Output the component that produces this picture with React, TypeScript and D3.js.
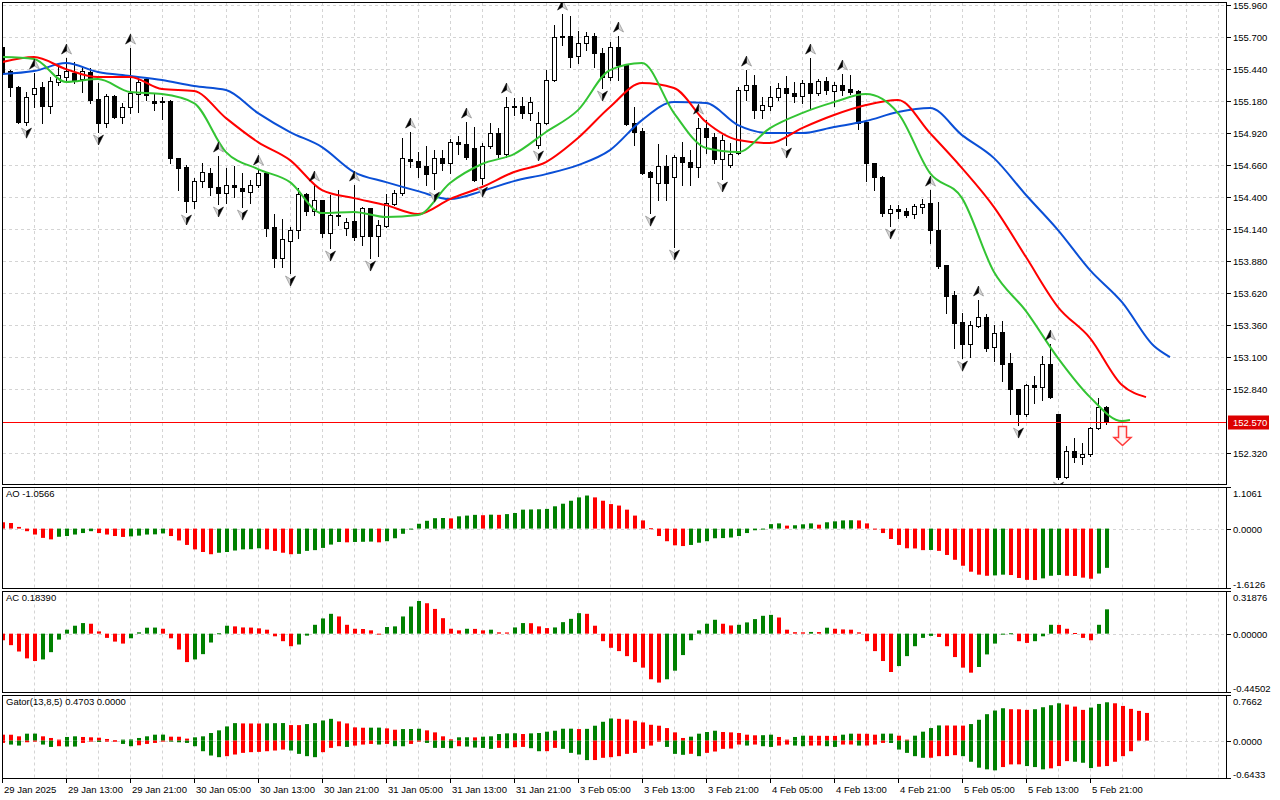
import React from "react";
import * as d3 from "d3";

// ---------- DATA (USDJPY-like H1) ----------
const timeLabels = [
  "29 Jan 2025", "29 Jan 13:00", "29 Jan 21:00", "30 Jan 05:00", "30 Jan 13:00", "30 Jan 21:00",
  "31 Jan 05:00", "31 Jan 13:00", "31 Jan 21:00", "3 Feb 05:00", "3 Feb 13:00", "3 Feb 21:00",
  "4 Feb 05:00", "4 Feb 13:00", "4 Feb 21:00", "5 Feb 05:00", "5 Feb 13:00", "5 Feb 21:00",
];
const timeLabelBars = [0, 8, 16, 24, 32, 40, 48, 56, 64, 72, 80, 88, 96, 104, 112, 120, 128, 136];

const priceTicks = [155.96, 155.7, 155.44, 155.18, 154.92, 154.66, 154.4, 154.14, 153.88, 153.62, 153.36, 153.1, 152.84, 152.32];
const aoTicks = [1.1061, 0, -1.6126];
const acTicks = [0.31876, 0, -0.44502];
const gatorTicks = [0.7662, 0, -0.6433];

const open = [
  155.618, 155.423, 155.293, 155.009, 155.236, 155.293, 155.139, 155.334, 155.374, 155.407,
  155.358, 155.415, 155.196, 155.001, 155.220, 155.049, 155.131, 155.236, 155.358, 155.179,
  155.179, 155.179, 154.716, 154.643, 154.367, 154.529, 154.594, 154.481, 154.432, 154.497,
  154.473, 154.440, 154.497, 154.594, 154.156, 153.904, 154.042, 154.131, 154.424, 154.286,
  154.375, 154.107, 154.245, 154.148, 154.204, 154.083, 154.310, 154.083, 154.164, 154.343,
  154.432, 154.708, 154.692, 154.651, 154.594, 154.716, 154.676, 154.846, 154.830, 154.798,
  154.554, 154.814, 154.919, 154.749, 155.139, 155.139, 155.082, 154.822, 155.001, 155.350,
  155.708, 155.708, 155.545, 155.651, 155.708, 155.569, 155.374, 155.618, 155.472, 155.001,
  154.936, 154.603, 154.513, 154.651, 154.562, 154.724, 154.684, 154.643, 154.960, 154.887,
  154.708, 154.659, 154.757, 155.269, 155.309, 155.106, 155.139, 155.212, 155.285, 155.244,
  155.220, 155.326, 155.244, 155.342, 155.261, 155.309, 155.277, 155.261, 155.009, 154.676,
  154.562, 154.269, 154.302, 154.286, 154.261, 154.318, 154.351, 154.131, 153.847, 153.603,
  153.384, 153.205, 153.351, 153.424, 153.181, 153.303, 153.051, 152.839, 152.636, 152.872,
  152.856, 153.043, 152.636, 152.124, 152.336, 152.287, 152.311, 152.523, 152.693,
];
const high = [
  155.643, 155.431, 155.301, 155.253, 155.407, 155.334, 155.374, 155.464, 155.529, 155.496,
  155.448, 155.448, 155.326, 155.236, 155.228, 155.163, 155.610, 155.374, 155.374, 155.244,
  155.212, 155.188, 154.716, 154.659, 154.554, 154.676, 154.635, 154.733, 154.635, 154.651,
  154.594, 154.538, 154.627, 154.603, 154.261, 154.221, 154.156, 154.473, 154.432, 154.497,
  154.375, 154.416, 154.456, 154.229, 154.497, 154.318, 154.310, 154.213, 154.424, 154.456,
  154.879, 154.928, 154.765, 154.814, 154.781, 154.781, 154.871, 154.895, 155.009, 154.968,
  154.838, 155.001, 154.960, 155.212, 155.204, 155.212, 155.212, 155.090, 155.431, 155.797,
  155.886, 155.870, 155.748, 155.740, 155.732, 155.610, 155.659, 155.708, 155.472, 155.131,
  154.960, 154.611, 154.830, 154.741, 154.741, 154.846, 154.781, 155.041, 155.025, 154.919,
  154.903, 154.838, 155.293, 155.431, 155.391, 155.212, 155.301, 155.326, 155.383, 155.334,
  155.350, 155.529, 155.358, 155.374, 155.334, 155.399, 155.391, 155.269, 155.009, 154.676,
  154.570, 154.334, 154.334, 154.310, 154.343, 154.383, 154.456, 154.359, 153.847, 153.636,
  153.457, 153.392, 153.563, 153.449, 153.359, 153.392, 153.132, 152.839, 152.880, 152.945,
  153.108, 153.205, 152.636, 152.376, 152.441, 152.401, 152.531, 152.766, 152.701,
];
const low = [
  155.391, 155.220, 155.001, 154.984, 155.131, 155.001, 155.082, 155.309, 155.350, 155.326,
  155.253, 155.163, 154.928, 154.968, 155.041, 155.001, 155.082, 155.090, 155.188, 155.106,
  155.033, 154.676, 154.456, 154.278, 154.310, 154.481, 154.416, 154.343, 154.351, 154.399,
  154.318, 154.351, 154.481, 154.083, 153.831, 153.831, 153.782, 154.066, 154.253, 154.253,
  154.074, 153.985, 154.172, 154.091, 154.050, 154.009, 153.904, 153.920, 154.156, 154.334,
  154.416, 154.643, 154.562, 154.497, 154.464, 154.619, 154.594, 154.749, 154.708, 154.529,
  154.505, 154.798, 154.724, 154.724, 155.066, 155.041, 155.025, 154.798, 154.993, 155.342,
  155.634, 155.456, 155.488, 155.594, 155.456, 155.285, 155.350, 155.350, 154.984, 154.822,
  154.586, 154.269, 154.375, 154.375, 153.993, 154.497, 154.497, 154.562, 154.757, 154.676,
  154.546, 154.643, 154.749, 155.188, 155.041, 155.041, 155.106, 155.188, 154.822, 155.171,
  155.163, 155.123, 155.228, 155.236, 155.139, 155.228, 155.236, 154.952, 154.529, 154.456,
  154.245, 154.164, 154.229, 154.237, 154.229, 154.269, 154.026, 153.823, 153.457, 153.173,
  153.091, 153.099, 153.343, 153.148, 153.067, 152.904, 152.636, 152.547, 152.620, 152.726,
  152.750, 152.766, 152.108, 152.116, 152.246, 152.230, 152.295, 152.514, 152.555,
];
const close = [
  155.415, 155.293, 155.009, 155.212, 155.285, 155.139, 155.342, 155.391, 155.423, 155.350,
  155.423, 155.188, 155.001, 155.220, 155.049, 155.131, 155.244, 155.334, 155.228, 155.163,
  155.171, 154.716, 154.635, 154.367, 154.529, 154.603, 154.481, 154.432, 154.497, 154.481,
  154.448, 154.497, 154.594, 154.148, 153.904, 154.058, 154.131, 154.424, 154.286, 154.375,
  154.107, 154.253, 154.253, 154.196, 154.074, 154.310, 154.083, 154.172, 154.351, 154.432,
  154.716, 154.692, 154.643, 154.586, 154.716, 154.676, 154.846, 154.830, 154.724, 154.538,
  154.814, 154.919, 154.749, 155.131, 155.131, 155.082, 155.171, 155.001, 155.350, 155.699,
  155.699, 155.537, 155.651, 155.708, 155.569, 155.374, 155.618, 155.472, 154.993, 154.928,
  154.594, 154.562, 154.651, 154.513, 154.724, 154.684, 154.643, 154.960, 154.887, 154.708,
  154.863, 154.749, 155.269, 155.309, 155.106, 155.147, 155.212, 155.285, 155.244, 155.220,
  155.326, 155.244, 155.342, 155.269, 155.309, 155.269, 155.253, 155.001, 154.676, 154.562,
  154.269, 154.302, 154.286, 154.253, 154.326, 154.343, 154.131, 153.839, 153.595, 153.376,
  153.205, 153.359, 153.424, 153.173, 153.294, 153.043, 152.839, 152.636, 152.872, 152.856,
  153.043, 152.774, 152.124, 152.336, 152.287, 152.311, 152.523, 152.693, 152.570,
];

// Alligator lines, sampled every 4 bars (shifted positions), plus their last point
const lineStep = 4;
const jaw = [
  155.399, 155.423, 155.488, 155.415, 155.383, 155.350, 155.301, 155.269, 155.082, 154.928,
  154.806, 154.603, 154.521, 154.448, 154.383, 154.448, 154.529, 154.586, 154.659, 154.781,
  155.025, 155.171, 155.163, 154.984, 154.919, 154.919, 154.968, 155.017, 155.090, 155.123,
  154.903, 154.716, 154.416, 154.131, 153.806, 153.546, 153.189,
];
const jawLast = [146, 153.099];
const teeth = [
  155.496, 155.537, 155.439, 155.374, 155.374, 155.277, 155.261, 155.041, 154.846, 154.700,
  154.456, 154.391, 154.334, 154.261, 154.383, 154.481, 154.603, 154.684, 154.879, 155.131,
  155.326, 155.285, 155.009, 154.863, 154.838, 154.960, 155.066, 155.147, 155.188, 154.919,
  154.635, 154.318, 153.912, 153.506, 153.254, 152.872,
];
const teethLast = [143, 152.774];
const lips = [
  155.537, 155.521, 155.334, 155.358, 155.253, 155.236, 155.163, 154.765, 154.627, 154.521,
  154.269, 154.278, 154.237, 154.253, 154.513, 154.668, 154.749, 154.928, 155.106, 155.431,
  155.488, 155.082, 154.798, 154.765, 154.960, 155.082, 155.171, 155.236, 155.082, 154.594,
  154.391, 153.790, 153.473, 153.091, 152.774, 152.579,
];
const lipsLast = [141, 152.588];

const upFractals = [4, 8, 16, 27, 32, 39, 44, 51, 58, 63, 70, 77, 87, 93, 101, 105, 116, 122, 131];
const downFractals = [3, 12, 23, 27, 30, 36, 41, 46, 54, 60, 67, 75, 81, 84, 90, 98, 111, 120, 127, 132];

const sellSignal = { bar: 140, price: 152.535 };

const ao = [
  0.17, 0.15, 0.045, -0.07, -0.16, -0.25, -0.29, -0.22, -0.2, -0.16,
  -0.12, -0.07, -0.12, -0.16, -0.2, -0.225, -0.21, -0.19, -0.16, -0.155,
  -0.13, -0.2, -0.32, -0.44, -0.56, -0.63, -0.69, -0.65, -0.63, -0.59,
  -0.56, -0.555, -0.53, -0.56, -0.6, -0.65, -0.69, -0.68, -0.6, -0.58,
  -0.52, -0.43, -0.36, -0.37, -0.36, -0.355, -0.35, -0.37, -0.34, -0.26,
  -0.14, -0.01, 0.13, 0.21, 0.28, 0.285, 0.275, 0.33, 0.35, 0.37,
  0.36, 0.375, 0.37, 0.39, 0.42, 0.51, 0.515, 0.52, 0.53, 0.6,
  0.67, 0.75, 0.84, 0.89, 0.84, 0.75, 0.66, 0.62, 0.51, 0.35,
  0.22, 0.01, -0.2, -0.34, -0.45, -0.47, -0.44, -0.38, -0.34, -0.26,
  -0.255, -0.24, -0.2, -0.12, -0.045, -0.02, 0.12, 0.14, 0.08, 0.09,
  0.115, 0.14, 0.105, 0.17, 0.195, 0.22, 0.225, 0.22, 0.14, -0.01,
  -0.12, -0.28, -0.44, -0.53, -0.535, -0.58, -0.575, -0.6, -0.71, -0.84,
  -1.0, -1.16, -1.24, -1.27, -1.26, -1.24, -1.25, -1.33, -1.38, -1.385,
  -1.34, -1.27, -1.25, -1.27, -1.275, -1.32, -1.35, -1.21, -1.0566,
];
const ac = [
  -0.05, -0.087, -0.135, -0.187, -0.207, -0.195, -0.14, -0.045, 0.03, 0.06,
  0.08, 0.075, 0.017, -0.032, -0.06, -0.075, -0.035, 0.01, 0.045, 0.046,
  0.037, -0.035, -0.12, -0.215, -0.195, -0.155, -0.067, 0.003, 0.06, 0.055,
  0.047, 0.046, 0.04, 0.03, -0.02, -0.057, -0.095, -0.082, -0.015, 0.067,
  0.115, 0.15, 0.13, 0.067, 0.037, 0.035, 0.025, -0.003, 0.05, 0.055,
  0.13, 0.205, 0.247, 0.23, 0.187, 0.117, 0.037, 0.025, 0.037, 0.036,
  0.025, 0.03, 0.01, 0.009, 0.047, 0.08, 0.079, 0.055, 0.042, 0.047,
  0.087, 0.112, 0.155, 0.15, 0.06, -0.057, -0.107, -0.132, -0.17, -0.215,
  -0.257, -0.345, -0.37, -0.345, -0.28, -0.162, -0.05, 0.025, 0.075, 0.105,
  0.075, 0.062, 0.067, 0.085, 0.11, 0.135, 0.142, 0.122, 0.03, 0.011,
  0.01, 0.013, 0.012, 0.045, 0.037, 0.032, 0.03, 0.01, -0.057, -0.132,
  -0.207, -0.29, -0.245, -0.17, -0.095, -0.032, -0.017, -0.025, -0.095, -0.177,
  -0.257, -0.295, -0.252, -0.157, -0.075, -0.002, 0.003, -0.057, -0.07, -0.057,
  -0.02, 0.067, 0.066, 0.037, 0.005, -0.032, -0.05, 0.067, 0.1839,
];
const gatorUp = [
  0.101, 0.1, 0.073, 0.118, 0.119, 0.073, 0.045, 0.017, 0.062, 0.073,
  0.062, 0.056, 0.05, 0.028, 0.005, 0.017, 0.02, 0.045, 0.073, 0.101,
  0.102, 0.067, 0.066, 0.034, 0.056, 0.073, 0.129, 0.174, 0.241, 0.297,
  0.292, 0.291, 0.29, 0.293, 0.296, 0.298, 0.264, 0.263, 0.281, 0.297,
  0.342, 0.37, 0.326, 0.292, 0.225, 0.219, 0.22, 0.221, 0.208, 0.185,
  0.196, 0.197, 0.202, 0.174, 0.14, 0.073, 0.022, 0.056, 0.057, 0.055,
  0.067, 0.073, 0.112, 0.123, 0.125, 0.112, 0.123, 0.129, 0.152, 0.168,
  0.202, 0.203, 0.196, 0.2, 0.253, 0.32, 0.376, 0.37, 0.359, 0.337,
  0.309, 0.269, 0.253, 0.213, 0.14, 0.045, 0.067, 0.118, 0.146, 0.168,
  0.146, 0.14, 0.129, 0.101, 0.09, 0.092, 0.101, 0.062, 0.017, 0.062,
  0.084, 0.083, 0.082, 0.081, 0.08, 0.101, 0.118, 0.117, 0.116, 0.101,
  0.118, 0.119, 0.084, 0.017, 0.084, 0.152, 0.213, 0.258, 0.257, 0.256,
  0.255, 0.281, 0.354, 0.449, 0.511, 0.55, 0.533, 0.532, 0.522, 0.533,
  0.567, 0.601, 0.634, 0.612, 0.578, 0.522, 0.561, 0.623, 0.651, 0.634,
  0.589, 0.539, 0.505, 0.4703,
];
const gatorDown = [
  -0.039, -0.067, -0.084, -0.028, -0.011, -0.067, -0.107, -0.095, -0.1, -0.101,
  -0.039, -0.011, -0.022, -0.011, -0.006, -0.056, -0.095, -0.079, -0.056, -0.039,
  -0.011, -0.017, -0.028, -0.039, -0.095, -0.18, -0.253, -0.281, -0.264, -0.236,
  -0.208, -0.196, -0.191, -0.18, -0.168, -0.152, -0.168, -0.225, -0.264, -0.281,
  -0.196, -0.123, -0.095, -0.107, -0.084, -0.067, -0.056, -0.067, -0.056, -0.095,
  -0.096, -0.056, -0.003, -0.039, -0.123, -0.124, -0.129, -0.095, -0.101, -0.118,
  -0.124, -0.14, -0.123, -0.129, -0.112, -0.107, -0.129, -0.18, -0.179, -0.123,
  -0.14, -0.208, -0.236, -0.331, -0.33, -0.292, -0.281, -0.264, -0.225, -0.208,
  -0.14, -0.084, -0.011, -0.107, -0.225, -0.241, -0.224, -0.264, -0.208, -0.185,
  -0.14, -0.135, -0.067, -0.084, -0.067, -0.095, -0.107, -0.084, -0.067, -0.084,
  -0.095, -0.084, -0.083, -0.095, -0.107, -0.067, -0.066, -0.084, -0.083, -0.067,
  -0.039, -0.04, -0.152, -0.208, -0.264, -0.292, -0.291, -0.264, -0.263, -0.247,
  -0.264, -0.359, -0.46, -0.488, -0.505, -0.449, -0.404, -0.403, -0.432, -0.449,
  -0.488, -0.471, -0.432, -0.348, -0.359, -0.376, -0.466, -0.443, -0.432, -0.359,
  -0.264, -0.18,
];

// ---------- LAYOUT ----------
const FONT = "'Liberation Sans', Arial, sans-serif";
const FS = 9.5;
const L = 2, R = 1227;
const MAIN = { top: 2, bottom: 485 };
const AOP = { top: 487.5, bottom: 588.5 };
const ACP = { top: 591.5, bottom: 692.5 };
const GP = { top: 695.5, bottom: 778.5 };
const GREEN = "#008000";
const RED = "#ff0000";
const GRID = "#d4d4d4";

const x = d3.scaleLinear().domain([0, 152]).range([2, 1218]);
const yMain = d3.scaleLinear().domain([152.06, 155.96]).range([485, 5]);
const yAO = d3.scaleLinear().domain([aoTicks[2], aoTicks[0]]).range([AOP.bottom, AOP.top]);
const yAC = d3.scaleLinear().domain([acTicks[2], acTicks[0]]).range([ACP.bottom, ACP.top]);
const yG = d3.scaleLinear().domain([gatorTicks[2], gatorTicks[0]]).range([GP.bottom, GP.top]);

const gridBars = d3.range(4, 153, 4);

function Frame({ top, bottom }: { top: number; bottom: number }) {
  return <rect x={L + 0.5} y={top + 0.5} width={R - L - 1} height={bottom - top - 1} fill="none" stroke="#000" strokeWidth={1} />;
}

function VGrid({ top, bottom }: { top: number; bottom: number }) {
  return (
    <g>
      {gridBars.map((b) => (
        <line key={b} x1={Math.round(x(b)) + 0.5} x2={Math.round(x(b)) + 0.5} y1={top + 1} y2={bottom - 1}
          stroke={GRID} strokeDasharray="3,3" />
      ))}
    </g>
  );
}

function Hist({ values, y, abs }: { values: number[]; y: d3.ScaleLinear<number, number>; abs?: boolean }) {
  const y0 = y(0);
  return (
    <g>
      {values.map((v, i) => {
        const prev = i > 0 ? values[i - 1] : v + 1;
        const up = abs ? Math.abs(v) > Math.abs(prev) : v > prev;
        const yv = y(v);
        const top = Math.min(yv, y0);
        const h = Math.max(Math.abs(yv - y0), 1);
        const cx = Math.round(x(i));
        return <rect key={i} x={cx - 1} y={top} width={4} height={h} fill={up ? GREEN : RED} />;
      })}
    </g>
  );
}

function SubAxis({ ticks, y, top, bottom, digits }: { ticks: number[]; y: any; top: number; bottom: number; digits: number }) {
  return (
    <g fontFamily={FONT} fontSize={FS} fill="#000">
      {ticks.map((t, k) => {
        const ty = k === 0 ? top : k === 2 ? bottom : Math.round(y(t)) + 0.5;
        const by = k === 0 ? top + 9 : k === 2 ? bottom - 1 : ty + 3.5;
        return (
          <g key={k}>
            <line x1={R} x2={R + 4} y1={ty} y2={ty} stroke="#000" />
            <text x={R + 6} y={by}>{t.toFixed(digits)}</text>
          </g>
        );
      })}
    </g>
  );
}

function linePath(vals: number[], last: number[]) {
  const pts: [number, number][] = vals.map((v, k) => [k * lineStep, v]);
  pts.push([last[0], last[1]]);
  return d3.line<[number, number]>().x((d) => x(d[0])).y((d) => yMain(d[1])).curve(d3.curveMonotoneX)(pts) || "";
}

export default function App() {
  const lastPrice = close[close.length - 1];
  const yLast = Math.round(yMain(lastPrice)) + 0.5;
  const sx = Math.round(x(sellSignal.bar)) + 0.5;
  const sy = yMain(sellSignal.price);

  return (
    <div style={{ position: "absolute", left: 0, top: 0, width: 1280, height: 800, background: "#fff" }}>
      <svg width={1280} height={800} style={{ display: "block" }}>
        <rect width={1280} height={800} fill="#fff" />
        <defs>
          <clipPath id="mainClip"><rect x={L + 1} y={MAIN.top + 1} width={R - L - 2} height={MAIN.bottom - MAIN.top - 2} /></clipPath>
          <clipPath id="gClip"><rect x={L + 1} y={GP.top + 1} width={R - L - 2} height={GP.bottom - GP.top - 2} /></clipPath>
        </defs>

        {/* ---------- MAIN PANEL ---------- */}
        <VGrid top={MAIN.top} bottom={MAIN.bottom} />
        {priceTicks.map((p) => (
          <line key={p} x1={L + 1} x2={R - 1} y1={Math.round(yMain(p)) + 0.5} y2={Math.round(yMain(p)) + 0.5}
            stroke={GRID} strokeDasharray="3,3" />
        ))}
        <g clipPath="url(#mainClip)">
          {/* candles */}
          {open.map((o, i) => {
            const cx = Math.round(x(i));
            const c = close[i];
            const bull = c > o;
            const yT = Math.round(yMain(Math.max(o, c)));
            const yB = Math.round(yMain(Math.min(o, c)));
            const h = Math.max(yB - yT, 1);
            return (
              <g key={i}>
                <line x1={cx + 0.5} x2={cx + 0.5} y1={Math.round(yMain(high[i]))} y2={Math.round(yMain(low[i])) + 1} stroke="#000" />
                <rect x={cx - 1.5} y={yT + 0.5} width={4} height={h} fill={bull ? "#fff" : "#000"} stroke="#000" />
              </g>
            );
          })}
          {/* alligator */}
          <path d={linePath(jaw, jawLast)} fill="none" stroke="#0a4fd6" strokeWidth={2} />
          <path d={linePath(teeth, teethLast)} fill="none" stroke="#ff0000" strokeWidth={2} />
          <path d={linePath(lips, lipsLast)} fill="none" stroke="#33c433" strokeWidth={2} />
          {/* fractals */}
          {upFractals.map((b) => {
            const cx = Math.round(x(b)) + 0.5;
            const yb = yMain(high[b]) - 4;
            const t = yb - 10;
            return (
              <g key={"u" + b}>
                <path d={`M${cx},${t} L${cx + 5},${yb} L${cx},${yb - 3} Z`} fill="#d6d6d6" stroke="#8c8c8c" strokeWidth={0.7} />
                <path d={`M${cx},${t} L${cx - 5},${yb} L${cx},${yb - 3} Z`} fill="#000" stroke="#000" strokeWidth={0.5} />
              </g>
            );
          })}
          {downFractals.map((b) => {
            const cx = Math.round(x(b)) + 0.5;
            const t = yMain(low[b]) + 3;
            const tip = t + 10;
            return (
              <g key={"d" + b}>
                <path d={`M${cx},${tip} L${cx - 5},${t} L${cx},${t + 3} Z`} fill="#d6d6d6" stroke="#8c8c8c" strokeWidth={0.7} />
                <path d={`M${cx},${tip} L${cx + 5},${t} L${cx},${t + 3} Z`} fill="#000" stroke="#000" strokeWidth={0.5} />
              </g>
            );
          })}
          {/* current price line */}
          <line x1={L} x2={R} y1={yLast} y2={yLast} stroke="#ff0000" strokeWidth={1} />
          {/* sell signal arrow */}
          <path
            d={`M${sx - 4},${sy} H${sx + 4} V${sy + 11} H${sx + 8.5} L${sx},${sy + 19} L${sx - 8.5},${sy + 11} H${sx - 4} Z`}
            fill="#fff4f4" stroke="#ff3b3b" strokeWidth={1.5} strokeLinejoin="miter" />
        </g>
        <Frame top={MAIN.top} bottom={MAIN.bottom} />
        {/* price axis */}
        <g fontFamily={FONT} fontSize={FS} fill="#000">
          {priceTicks.map((p) => {
            const ty = Math.round(yMain(p)) + 0.5;
            return (
              <g key={p}>
                <line x1={R} x2={R + 4} y1={ty} y2={ty} stroke="#000" />
                <text x={R + 6} y={ty + 3.5}>{p.toFixed(3)}</text>
              </g>
            );
          })}
        </g>
        <rect x={R + 1} y={yLast - 7} width={41} height={14} fill="#dd0000" />
        <text x={R + 6} y={yLast + 3.5} fontFamily={FONT} fontSize={FS} fill="#fff">{lastPrice.toFixed(3)}</text>

        {/* ---------- AO ---------- */}
        <VGrid top={AOP.top} bottom={AOP.bottom} />
        <line x1={L + 1} x2={R - 1} y1={Math.round(yAO(0)) + 0.5} y2={Math.round(yAO(0)) + 0.5} stroke={GRID} strokeDasharray="3,3" />
        <g clipPath="url(#mainClip)" />
        <g>
          <clipPath id="aoClip"><rect x={L + 1} y={AOP.top} width={R - L - 2} height={AOP.bottom - AOP.top} /></clipPath>
          <g clipPath="url(#aoClip)"><Hist values={ao} y={yAO} /></g>
        </g>
        <Frame top={AOP.top - 0.5} bottom={AOP.bottom + 0.5} />
        <text x={6} y={AOP.top + 9.5} fontFamily={FONT} fontSize={FS}>{`AO ${ao[ao.length - 1].toFixed(4)}`}</text>
        <SubAxis ticks={aoTicks} y={yAO} top={AOP.top} bottom={AOP.bottom} digits={4} />

        {/* ---------- AC ---------- */}
        <VGrid top={ACP.top} bottom={ACP.bottom} />
        <line x1={L + 1} x2={R - 1} y1={Math.round(yAC(0)) + 0.5} y2={Math.round(yAC(0)) + 0.5} stroke={GRID} strokeDasharray="3,3" />
        <clipPath id="acClip"><rect x={L + 1} y={ACP.top} width={R - L - 2} height={ACP.bottom - ACP.top} /></clipPath>
        <g clipPath="url(#acClip)"><Hist values={ac} y={yAC} /></g>
        <Frame top={ACP.top - 0.5} bottom={ACP.bottom + 0.5} />
        <text x={6} y={ACP.top + 9.5} fontFamily={FONT} fontSize={FS}>{`AC ${ac[ac.length - 1].toFixed(5)}`}</text>
        <SubAxis ticks={acTicks} y={yAC} top={ACP.top} bottom={ACP.bottom} digits={5} />

        {/* ---------- GATOR ---------- */}
        <VGrid top={GP.top} bottom={GP.bottom} />
        <line x1={L + 1} x2={R - 1} y1={Math.round(yG(0)) + 0.5} y2={Math.round(yG(0)) + 0.5} stroke={GRID} strokeDasharray="3,3" />
        <g clipPath="url(#gClip)">
          <Hist values={gatorUp} y={yG} abs />
          <Hist values={gatorDown} y={yG} abs />
        </g>
        <Frame top={GP.top - 0.5} bottom={GP.bottom + 0.5} />
        <text x={6} y={GP.top + 9.5} fontFamily={FONT} fontSize={FS}>
          {`Gator(13,8,5) ${gatorUp[gatorUp.length - 1].toFixed(4)} ${(0).toFixed(4)}`}
        </text>
        <SubAxis ticks={gatorTicks} y={yG} top={GP.top} bottom={GP.bottom} digits={4} />

        {/* ---------- TIME AXIS ---------- */}
        <g fontFamily={FONT} fontSize={FS} fill="#000">
          {timeLabelBars.map((b, k) => {
            const tx = Math.round(x(b)) + 0.5;
            return (
              <g key={b}>
                <line x1={tx} x2={tx} y1={GP.bottom + 0.5} y2={GP.bottom + 4.5} stroke="#000" />
                <text x={tx + 1.5} y={792.5}>{timeLabels[k]}</text>
              </g>
            );
          })}
        </g>
      </svg>
    </div>
  );
}
